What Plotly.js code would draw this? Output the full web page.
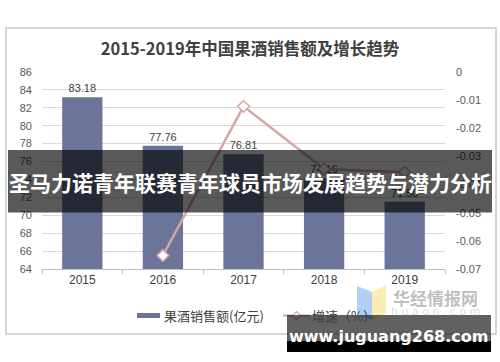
<!DOCTYPE html>
<html>
<head>
<meta charset="utf-8">
<script src="https://cdn.plot.ly/plotly-3.0.1.min.js"></script>
<style>
html,body{margin:0;padding:0;background:#fff;}
#chart{width:500px;height:362px;}
</style>
</head>
<body>
<div id="chart"></div>
<script>
// ---- data ----
const years = ['2015', '2016', '2017', '2018', '2019'];
const sales = [83.18, 77.76, 76.81, 74.16, 71.5];
const growth = [null, -0.0652, -0.0122, -0.0345, -0.0356];
const leftTickVals = [64, 66, 68, 70, 72, 74, 76, 78, 80, 82, 84, 86];
const rightTickVals = [0, -0.01, -0.02, -0.03, -0.04, -0.05, -0.06, -0.07];
const rightTickText = ['0', '-0.01', '-0.02', '-0.03', '-0.04', '-0.05', '-0.06', '-0.07'];
const chartTitle = '2015-2019年中国果酒销售额及增长趋势';
const salesName = '果酒销售额(亿元)';
const growthName = '增速（%）';
const bannerText = '圣马力诺青年联赛青年球员市场发展趋势与潜力分析';
const siteText = 'www.juguang268.com';
const logoText = '华经情报网';
const logoSub = 'huaon.com';

// ---- layout helpers (pixel -> paper) ----
const W = 500, H = 362, L = 42, R = 55, T = 72, B = 93;
const PW = W - L - R, PH = H - T - B;
const X = px => (px - L) / PW;
const Y = py => (H - B - py) / PH;

const barColor = '#6b7599';
const lineColor = '#d7a5a5';
const font = '"Noto Sans CJK SC", "Noto Sans", Arial, sans-serif';

const traces = [
  {
    type: 'bar', x: years, y: sales, name: salesName,
    marker: {color: barColor},
    text: sales.map(v => v.toFixed(2)), textposition: 'outside',
    textfont: {size: 11, color: '#404040', family: 'Liberation Sans, Arial, sans-serif'},
    cliponaxis: false, hoverinfo: 'skip', showlegend: false
  },
  {
    type: 'scatter', x: years, y: growth, yaxis: 'y2', name: growthName,
    mode: 'lines+markers',
    line: {color: lineColor, width: 2.5},
    marker: {symbol: 'diamond', size: 9, color: '#ffffff', line: {color: lineColor, width: 1.5}},
    cliponaxis: false, hoverinfo: 'skip', showlegend: false
  }
];

const diamond = (cx, cy, r) => `M ${X(cx)} ${Y(cy - r)} L ${X(cx + r)} ${Y(cy)} L ${X(cx)} ${Y(cy + r)} L ${X(cx - r)} ${Y(cy)} Z`;

const shapes = [
  // chart frame
  {type: 'rect', xref: 'paper', yref: 'paper', x0: X(6), x1: X(496), y0: Y(334), y1: Y(28),
   line: {color: '#c9c9c9', width: 1.5}, fillcolor: 'rgba(0,0,0,0)', layer: 'below'},
  // legend swatches
  {type: 'rect', xref: 'paper', yref: 'paper', x0: X(137), x1: X(160), y0: Y(318), y1: Y(313),
   line: {width: 0}, fillcolor: barColor},
  {type: 'line', xref: 'paper', yref: 'paper', x0: X(283), x1: X(310), y0: Y(315.5), y1: Y(315.5),
   line: {color: lineColor, width: 2}},
  {type: 'path', xref: 'paper', yref: 'paper', path: diamond(296.5, 315.5, 4),
   line: {color: lineColor, width: 1.2}, fillcolor: '#ffffff'},
  // logo watermark
  {type: 'path', xref: 'paper', yref: 'paper',
   path: `M ${X(357)} ${Y(286)} L ${X(372)} ${Y(292)} L ${X(372)} ${Y(320)} L ${X(357)} ${Y(314)} Z`,
   line: {width: 0}, fillcolor: 'rgba(150,190,245,0.75)', layer: 'above'},
  {type: 'path', xref: 'paper', yref: 'paper',
   path: `M ${X(372)} ${Y(292)} L ${X(386)} ${Y(285)} L ${X(386)} ${Y(313)} L ${X(372)} ${Y(320)} Z`,
   line: {width: 0}, fillcolor: 'rgba(250,230,150,0.75)', layer: 'above'},
  // banner
  {type: 'rect', xref: 'paper', yref: 'paper', x0: X(8), x1: X(492), y0: Y(212.5), y1: Y(150),
   line: {width: 0}, fillcolor: 'rgba(0,0,0,0.65)', layer: 'above'},
  // site watermark box
  {type: 'rect', xref: 'paper', yref: 'paper', x0: X(287), x1: X(491), y0: Y(352), y1: Y(315),
   line: {width: 0}, fillcolor: 'rgba(0,0,0,0.62)', layer: 'above'},
  {type: 'rect', xref: 'paper', yref: 'paper', x0: X(287), x1: X(491), y0: Y(352), y1: Y(341),
   line: {width: 0}, fillcolor: '#000000', layer: 'above'}
];

const annotations = [
  {xref: 'paper', yref: 'paper', x: X(162), y: Y(315.5), xanchor: 'left', yanchor: 'middle',
   text: salesName, showarrow: false, font: {size: 13, color: '#404040', family: font}},
  {xref: 'paper', yref: 'paper', x: X(310), y: Y(315.5), xanchor: 'left', yanchor: 'middle',
   text: growthName, showarrow: false, font: {size: 13, color: '#404040', family: font}},
  {xref: 'paper', yref: 'paper', x: X(435), y: Y(297), xanchor: 'center', yanchor: 'middle',
   text: '<b>' + logoText + '</b>', showarrow: false, font: {size: 17, color: 'rgba(170,170,170,0.75)', family: font}},
  {xref: 'paper', yref: 'paper', x: X(435), y: Y(311), xanchor: 'center', yanchor: 'middle',
   text: logoSub.split('').join(' '), showarrow: false, font: {size: 11, color: 'rgba(200,200,200,0.6)', family: 'DejaVu Sans, sans-serif'}},
  {xref: 'paper', yref: 'paper', x: X(250), y: Y(181.5), xanchor: 'center', yanchor: 'middle',
   text: '<b>' + bannerText + '</b>', showarrow: false, font: {size: 21, color: '#ffffff', family: font}},
  {xref: 'paper', yref: 'paper', x: X(388), y: Y(336), xanchor: 'center', yanchor: 'middle',
   text: '<b>' + siteText + '</b>', showarrow: false, font: {size: 16, color: '#ffffff', family: 'DejaVu Sans, sans-serif'}}
];

const layout = {
  width: W, height: H,
  margin: {l: L, r: R, t: T, b: B, pad: 0},
  paper_bgcolor: '#ffffff', plot_bgcolor: '#ffffff',
  showlegend: false,
  bargap: 0.5,
  title: {text: '<b>' + chartTitle + '</b>', x: 0.5, xref: 'container', xanchor: 'center',
          y: 1 - 49 / H, yref: 'container', yanchor: 'middle',
          font: {size: 16.5, color: '#404040', family: font}},
  xaxis: {type: 'category', range: [-0.5, 4.5], showgrid: false, zeroline: false,
          showline: true, linecolor: '#bfbfbf', linewidth: 1,
          ticks: 'outside', tickson: 'boundaries', ticklen: 4, tickcolor: '#bfbfbf',
          tickfont: {size: 12, color: '#404040', family: 'Liberation Sans, Arial, sans-serif'}},
  yaxis: {range: [64, 86], tickvals: leftTickVals, ticktext: leftTickVals.map(String),
          showgrid: true, gridcolor: '#d9d9d9', gridwidth: 1, zeroline: false, showline: false,
          ticks: '', ticklabelstandoff: 9,
          tickfont: {size: 11, color: '#595959', family: 'Liberation Sans, Arial, sans-serif'}},
  yaxis2: {range: [-0.07, 0], overlaying: 'y', side: 'right', tickvals: rightTickVals, ticktext: rightTickText,
           showgrid: false, zeroline: false, showline: false, ticks: '', ticklabelstandoff: 10,
           tickfont: {size: 11, color: '#595959', family: 'Liberation Sans, Arial, sans-serif'}},
  shapes: shapes,
  annotations: annotations
};

Plotly.newPlot('chart', traces, layout, {displayModeBar: false, staticPlot: true});
</script>
</body>
</html>
